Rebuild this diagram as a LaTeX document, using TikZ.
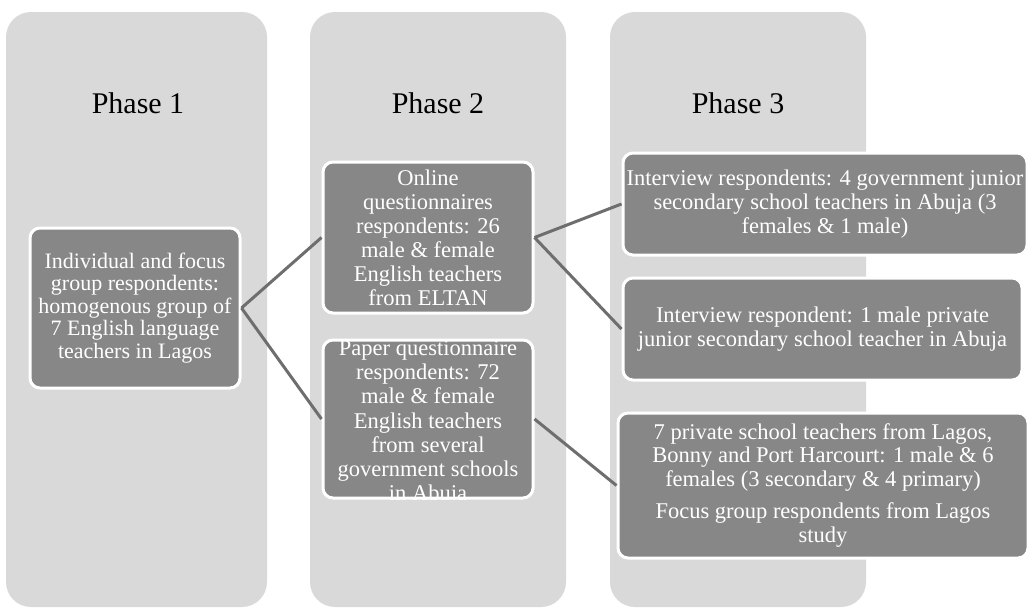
\documentclass[tikz,border=0pt]{standalone}
\usepackage{fontspec}
\setmainfont{Liberation Serif}
\definecolor{colbg}{RGB}{217,217,217}
\definecolor{boxfill}{RGB}{135,135,135}
\definecolor{linkgray}{RGB}{110,110,110}
\begin{document}
\begin{tikzpicture}[x=1pt,y=-1pt]
  \tikzstyle{phasecol}=[fill=colbg,rounded corners=25pt,minimum height=595pt,inner sep=0pt]
  \tikzstyle{phasetitle}=[font=\fontsize{30}{32}\selectfont]
  \tikzstyle{respbox}=[fill=boxfill,draw=white,line width=3pt,rounded corners=10pt,text=white,align=center,inner sep=0pt,font=\fontsize{22.5}{24}\selectfont]
  \tikzstyle{link}=[draw=linkgray,line width=3pt]
  \useasboundingbox (0,0) rectangle (1029,608);
  % phase columns
  \node [phasecol,minimum width=261pt] (col1) at (136.5,309.5) {};
  \node [phasecol,minimum width=256pt] (col2) at (438,309.5) {};
  \node [phasecol,minimum width=256pt] (col3) at (738,309.5) {};
  \node [phasetitle] (t1) at (138,103) {Phase 1};
  \node [phasetitle] (t2) at (438,103) {Phase 2};
  \node [phasetitle] (t3) at (738,103) {Phase 3};
  % respondent boxes
  \node [respbox,minimum width=210pt,minimum height=160pt,font=\fontsize{22}{22.5}\selectfont] (lagos) at (135,308)
    {Individual and focus\\group respondents:\\homogenous group of\\7 English language\\teachers in Lagos};
  \node [respbox,minimum width=210pt,minimum height=151pt] (online) at (428,237.5)
    {Online\\questionnaires\\respondents: 26\\male \& female\\English teachers\\from ELTAN};
  \node [respbox,minimum width=210pt,minimum height=158pt] (paper) at (428,419) {};
  \begin{scope}
    \clip [rounded corners=10pt] (paper.south west) rectangle (paper.north east);
    \node [text=white,align=center,inner sep=0pt,font=\fontsize{22.5}{24.3}\selectfont] (papertext) at (428,423)
      {Paper questionnaire\\respondents: 72\\male \& female\\English teachers\\from several\\government schools\\in Abuja};
  \end{scope}
  \node [respbox,minimum width=404pt,minimum height=102pt] (gov) at (825,204)
    {Interview respondents: 4 government junior\\secondary school teachers in Abuja (3\\females \& 1 male)};
  \node [respbox,minimum width=399pt,minimum height=102pt] (priv) at (822.5,329)
    {Interview respondent: 1 male private\\junior secondary school teacher in Abuja};
  \node [respbox,minimum width=410pt,minimum height=145pt] (focus) at (823,485.5)
    {7 private school teachers from Lagos,\\Bonny and Port Harcourt: 1 male \& 6\\females (3 secondary \& 4 primary)\\[8pt]Focus group respondents from Lagos\\study};
  % connectors
  \draw [link] (lagos.east) -- (online.west);
  \draw [link] (lagos.east) -- (paper.west);
  \draw [link] (online.east) -- (gov.west);
  \draw [link] (online.east) -- (priv.west);
  \draw [link] (paper.east) -- (focus.west);
\end{tikzpicture}
\end{document}
